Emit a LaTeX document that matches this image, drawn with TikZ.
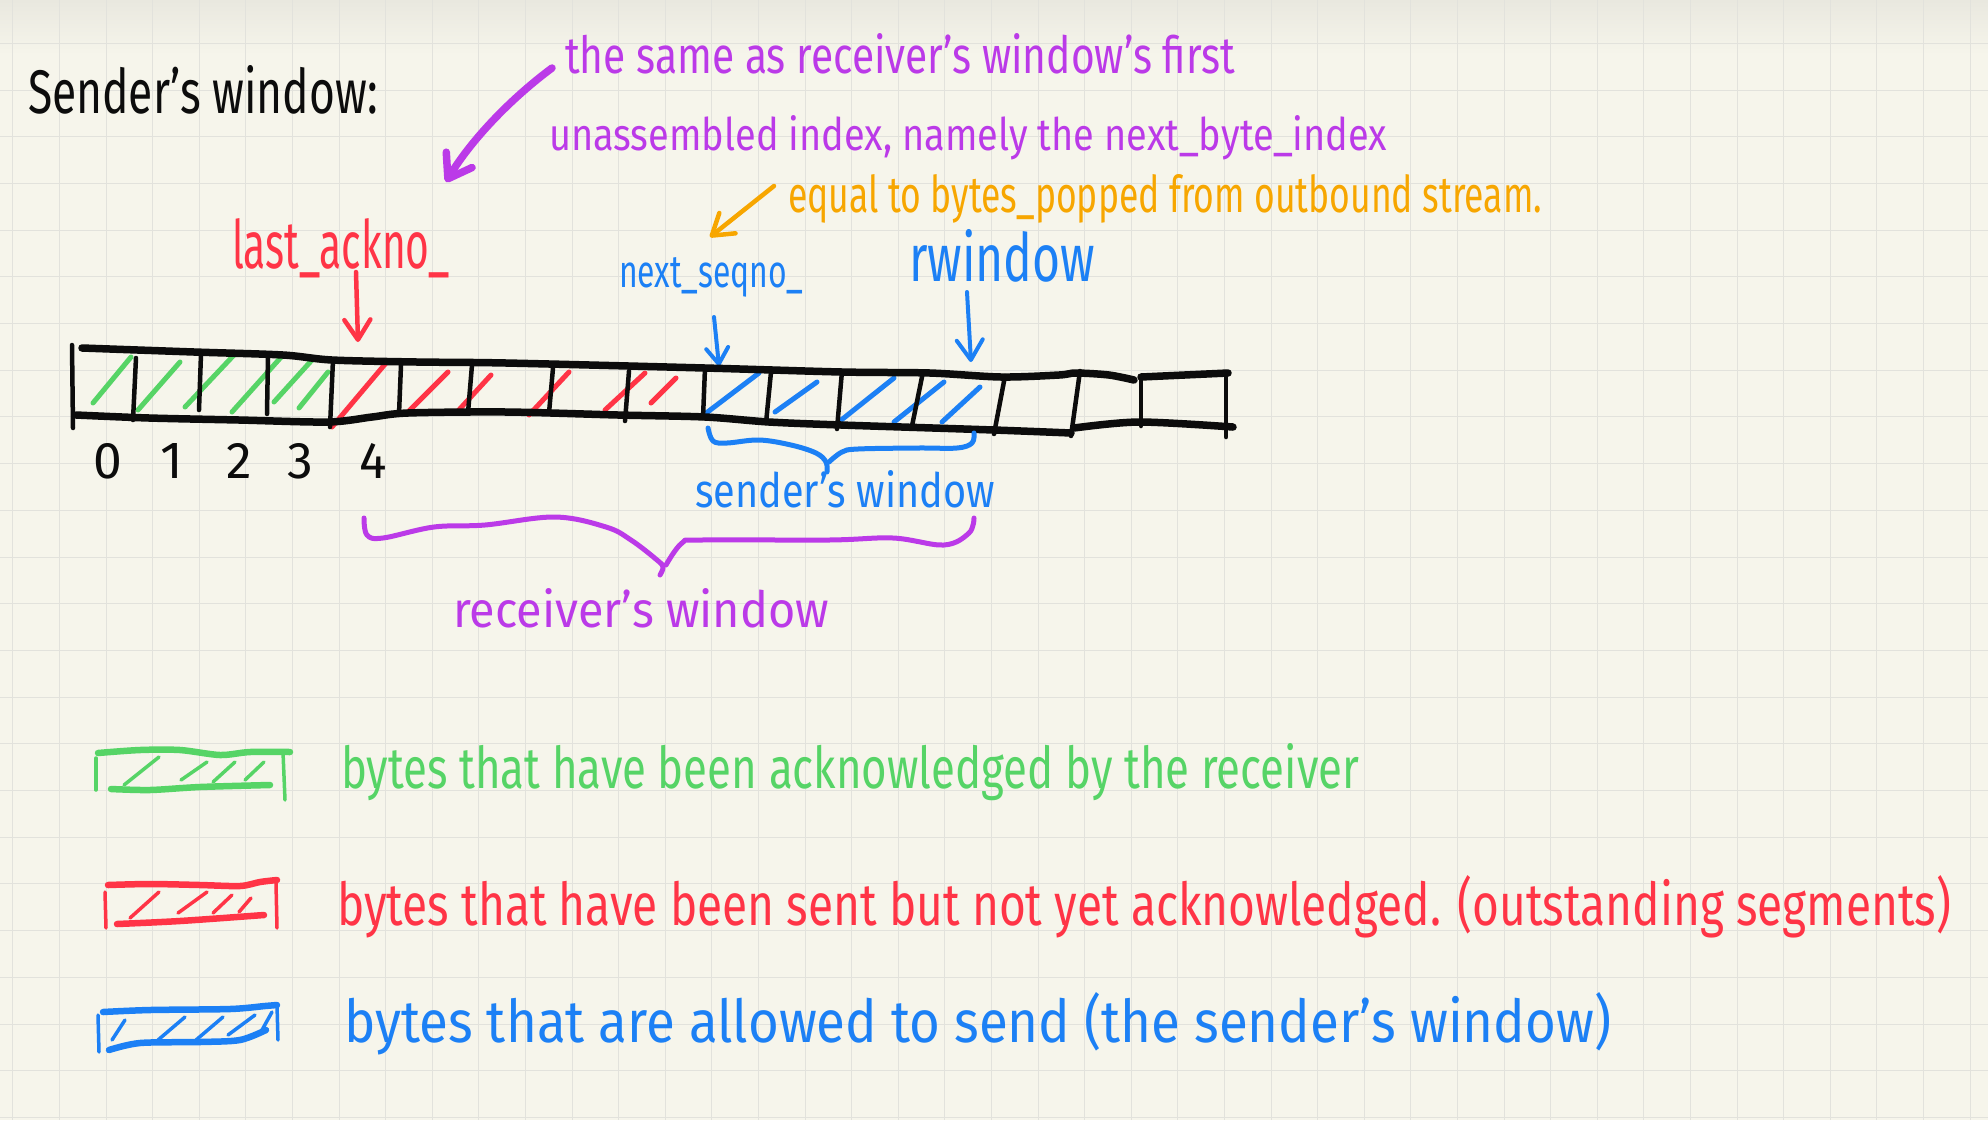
\documentclass[tikz,border=0pt]{standalone}
\usepackage{fontspec}
\setmainfont{Fira Sans}
\usetikzlibrary{arrows.meta}
\definecolor{bg}{RGB}{246,245,235}
\definecolor{gridc}{RGB}{226,226,220}
\definecolor{topg}{RGB}{233,232,223}
\definecolor{inkk}{RGB}{12,12,12}
\definecolor{pur}{RGB}{187,58,232}
\definecolor{org}{RGB}{247,166,0}
\definecolor{redc}{RGB}{255,52,70}
\definecolor{blu}{RGB}{28,128,245}
\definecolor{grn}{RGB}{86,212,102}
\newcommand{\fitbox}[3]{\resizebox{#1pt}{#2pt}{#3}}
\begin{document}
\begin{tikzpicture}[x=1pt,y=-1pt,
  lab/.style={inner sep=0pt,outer sep=0pt,anchor=base west},
  numlab/.style={inner sep=0pt,outer sep=0pt,anchor=base,text=inkk},
  pen/.style={line cap=round,line join=round},
  gridline/.style={draw=gridc,line width=0.9pt},
  edge/.style={pen,draw=inkk,line width=7.5pt},
  divider/.style={pen,draw=inkk,line width=4.5pt},
  hatch/.style={pen,line width=5pt},
  swedge/.style={pen,line width=6.5pt},
  swside/.style={pen,line width=3.5pt},
  brace/.style={pen,line width=5pt},
  barbtip/.style={-{Straight Barb[length=20pt,width=26pt,round]}},
  smallbarb/.style={-{Straight Barb[length=16pt,width=22pt,round]}}
]
\useasboundingbox (0,0) rectangle (1988,1120);
\fill[bg] (0,0) rectangle (1988,1120);
\shade[top color=topg,bottom color=bg] (0,0) rectangle (1988,55);
\foreach \k in {0,...,42} {\draw[gridline] ({12.8+\k*46.6},0) -- ({12.8+\k*46.6},1120);}
\foreach \k in {0,...,23} {\draw[gridline] (0,{43.3+\k*46.7}) -- (1988,{43.3+\k*46.7});}

% ---------- texts ----------
\node[lab,text=inkk] (title) at (28,113) {\fitbox{350}{48}{Sender's window:}};
\node[lab,text=pur] (note1a) at (565,73) {\fitbox{670}{40}{the same as receiver's window's first}};
\node[lab,text=pur] (note1b) at (549,150) {\fitbox{838}{35}{unassembled index, namely the next\_byte\_index}};
\node[lab,text=org] (note2) at (788,212) {\fitbox{754}{38}{equal to bytes\_popped from outbound stream.}};
\node[lab,text=redc] (lastack) at (232,268) {\fitbox{218}{50}{last\_ackno\_}};
\node[lab,text=blu] (nextseq) at (619,287) {\fitbox{184}{30}{next\_seqno\_}};
\node[lab,text=blu] (rwin) at (909,281) {\fitbox{186}{52}{rwindow}};
\node[lab,text=blu] (sendwin) at (695,507) {\fitbox{300}{37}{sender's window}};
\node[lab,text=pur] (recvwin) at (453,627) {\fitbox{376}{39}{receiver's window}};
\node[numlab] (n0) at (108,478) {\resizebox{!}{35pt}{0}};
\node[numlab] (n1) at (172,478) {\resizebox{!}{35pt}{1}};
\node[numlab] (n2) at (239,478) {\resizebox{!}{35pt}{2}};
\node[numlab] (n3) at (300,478) {\resizebox{!}{35pt}{3}};
\node[numlab] (n4) at (373,478) {\resizebox{!}{35pt}{4}};
\node[lab,text=grn] (leg1) at (341,788) {\fitbox{1018}{45}{bytes that have been acknowledged by the receiver}};
\node[lab,text=redc] (leg2) at (337,925) {\fitbox{1614}{50}{bytes that have been sent but not yet acknowledged. (outstanding segments)}};
\node[lab,text=blu] (leg3) at (344,1042) {\fitbox{1267}{50}{bytes that are allowed to send (the sender's window)}};

% ---------- pointers ----------
\coordinate (pS) at (552,68);  \coordinate (pT) at (446,182);
\draw[pen,draw=pur,line width=7.5pt,-{Straight Barb[length=22pt,width=30pt,round]}] (pS) .. controls (505,103) and (468,145) .. (pT);
\coordinate (oS) at (774,186); \coordinate (oT) at (710,237);
\draw[pen,draw=org,line width=4.5pt,barbtip] (oS) -- (oT);
\coordinate (rS) at (356,272); \coordinate (rT) at (358,342);
\draw[pen,draw=redc,line width=4.5pt,barbtip] (rS) -- (rT);
\coordinate (bS) at (714,317); \coordinate (bT) at (719,366);
\draw[pen,draw=blu,line width=4pt,smallbarb] (bS) -- (bT);
\coordinate (cS) at (967,292); \coordinate (cT) at (971,362);
\draw[pen,draw=blu,line width=4pt,barbtip] (cS) -- (cT);

% ---------- hatching ----------
\foreach \a/\b/\c/\d in {93/403/131/357,138/410/180/362,185/407/234/355,232/412/283/355,274/402/312/360,299/408/328/372}
  {\draw[hatch,draw=grn] (\a,\b) -- (\c,\d);}
\foreach \a/\b/\c/\d in {332/427/386/363,408/412/448/372,457/412/491/375,529/415/569/372,605/410/645/373,651/403/676/378}
  {\draw[hatch,draw=redc] (\a,\b) -- (\c,\d);}
\foreach \a/\b/\c/\d in {701/417/759/373,775/412/817/382,835/425/894/378,894/422/944/382,942/422/980/387}
  {\draw[hatch,draw=blu] (\a,\b) -- (\c,\d);}

% ---------- byte strip ----------
\draw[edge] plot[smooth,tension=0.5] coordinates {(82,348) (194,352) (283,355) (332,360) (417,362) (506,363) (705,368) (842,372) (930,373) (1001,377) (1059,375) (1076,373) (1109,375) (1134,380)};
\draw[edge] (1141,377) -- (1228,373);
\draw[edge] plot[smooth,tension=0.5] coordinates {(76,415) (149,418) (239,420) (328,422) (372,417) (408,413) (506,412) (618,415) (705,417) (769,422) (841,425) (994,430) (1071,433)};
\draw[edge] plot[smooth,tension=0.5] coordinates {(1074,428) (1139,422) (1233,427)};
\draw[divider] (72,345) -- (73,428);
\foreach \a/\b/\c/\d in {136/358/133/420,201/354/199/410,268/355/267/414,333/360/330/427,401/365/399/414,472/365/468/413,553/368/549/413,629/371/625/421,705/368/703/418,771/372/766/423,842/371/837/429,923/372/912/426,1005/376/994/434,1080/371/1071/436,1141/376/1141/426,1226/372/1226/437}
  {\draw[divider] (\a,\b) -- (\c,\d);}

% ---------- braces ----------
\draw[brace,draw=blu] plot[smooth,tension=0.6] coordinates {(708,428) (713,441) (727,443) (759,440) (791,445) (816,453) (826,462) (827,472)};
\draw[brace,draw=blu] plot[smooth,tension=0.6] coordinates {(829,462) (842,452) (858,449) (918,448) (957,448) (972,443) (974,433)};
\draw[brace,draw=pur] plot[smooth,tension=0.6] coordinates {(364,518) (367,535) (383,538) (434,527) (485,525) (555,517) (606,527) (631,540) (657,560) (663,567) (660,575)};
\draw[brace,draw=pur] plot[smooth,tension=0.6] coordinates {(666,565) (682,543) (702,540) (829,540) (893,538) (944,545) (969,533) (974,518)};

% ---------- legend swatches ----------
\draw[swside,draw=grn] (96,758) -- (96,790);
\draw[swedge,draw=grn] plot[smooth,tension=0.5] coordinates {(98,753) (140,750) (180,750) (220,755) (250,752) (290,752)};
\draw[swedge,draw=grn] plot[smooth,tension=0.5] coordinates {(111,789) (150,790) (200,787) (270,785)};
\draw[swside,draw=grn] (283,752) -- (285,800);
\foreach \a/\b/\c/\d in {124/785/159/757,181/780/207/762,213/782/235/762,245/780/264/762}
  {\draw[hatch,line width=3.5pt,draw=grn] (\a,\b) -- (\c,\d);}

\draw[swside,draw=redc] (105,892) -- (106,928);
\draw[swedge,draw=redc] plot[smooth,tension=0.5] coordinates {(108,885) (150,884) (200,885) (240,886) (260,882) (277,880)};
\draw[swedge,draw=redc] plot[smooth,tension=0.5] coordinates {(117,924) (180,921) (264,915)};
\draw[swside,draw=redc] (276,883) -- (277,928);
\foreach \a/\b/\c/\d in {130/918/159/892,178/913/207/892,213/913/232/895,239/912/251/898}
  {\draw[hatch,line width=3.5pt,draw=redc] (\a,\b) -- (\c,\d);}

\draw[swside,draw=blu] (98,1015) -- (99,1052);
\draw[swedge,draw=blu] plot[smooth,tension=0.5] coordinates {(103,1012) (150,1010) (230,1009) (265,1006) (277,1005)};
\draw[swedge,draw=blu] plot[smooth,tension=0.5] coordinates {(109,1050) (140,1043) (200,1042) (240,1040) (266,1030)};
\draw[swside,draw=blu] (277,1005) -- (278,1040);
\foreach \a/\b/\c/\d in {112/1040/125/1020,158/1040/185/1017,196/1040/223/1017,228/1035/255/1015,262/1030/272/1012}
  {\draw[hatch,line width=3.5pt,draw=blu] (\a,\b) -- (\c,\d);}
\end{tikzpicture}
\end{document}
